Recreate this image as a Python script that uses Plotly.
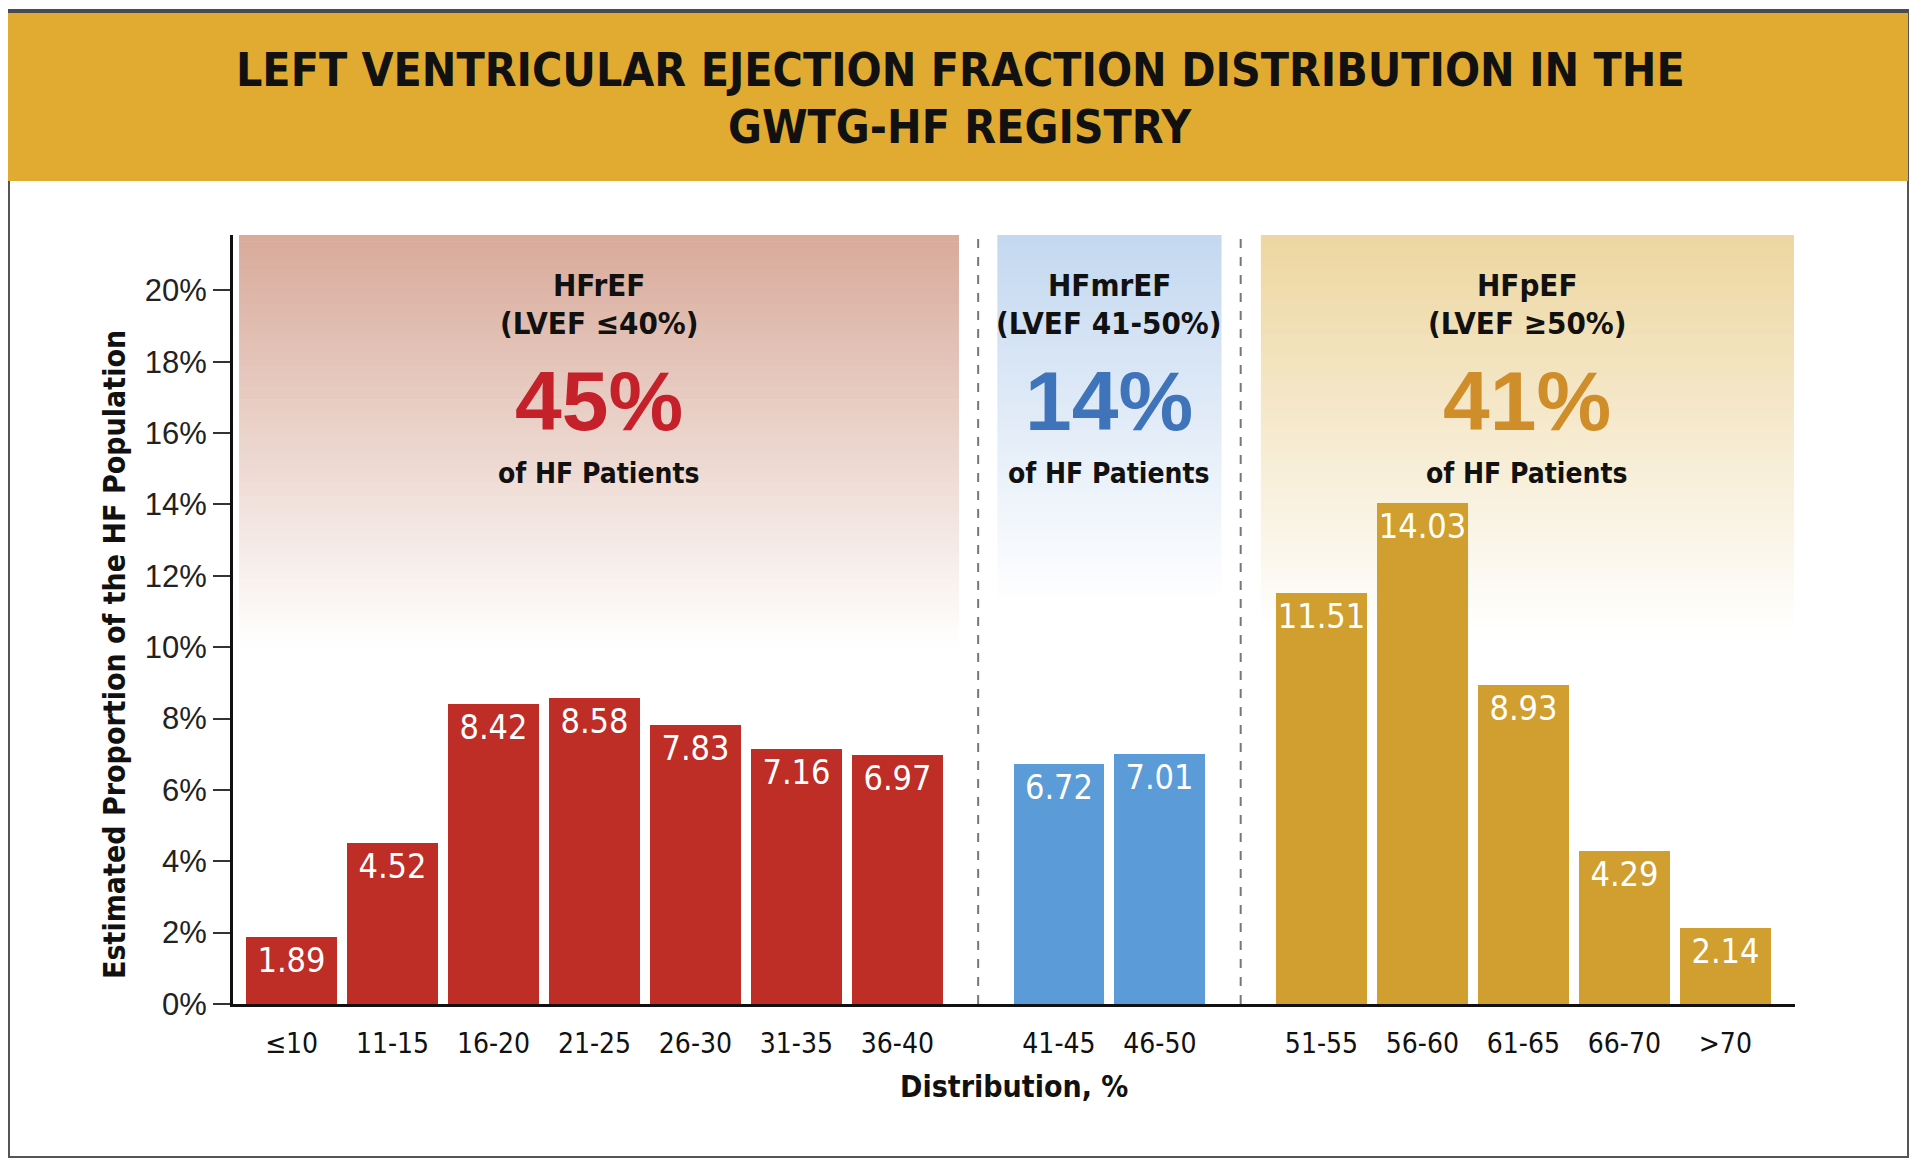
import plotly.graph_objects as go

# ---------------- data ----------------
hfref_cats = ["≤10", "11-15", "16-20", "21-25", "26-30", "31-35", "36-40"]
hfref_vals = [1.89, 4.52, 8.42, 8.58, 7.83, 7.16, 6.97]
hfmref_cats = ["41-45", "46-50"]
hfmref_vals = [6.72, 7.01]
hfpef_cats = ["51-55", "56-60", "61-65", "66-70", ">70"]
hfpef_vals = [11.51, 14.03, 8.93, 4.29, 2.14]

group_names = ["HFrEF", "HFmrEF", "HFpEF"]
group_ranges = ["(LVEF ≤40%)", "(LVEF 41-50%)", "(LVEF ≥50%)"]
group_shares = ["45%", "14%", "41%"]

y_ticks = [0, 2, 4, 6, 8, 10, 12, 14, 16, 18, 20]

# ---------------- style ----------------
W, H = 1920, 1167
OFF = 8  # page body margin of the browser
PW, PH = 1562, 769
ML, MT = 233 - OFF, 235 - OFF
MR, MB = W - ML - PW, H - MT - PH
GAP = 0.6          # extra spacing between groups
YMAX = 21.55

bar_colors = ["#BE2D26", "#5B9BD8", "#D09F30"]
share_colors = ["#C4212B", "#3F73BA", "#D08E2A"]
box_top_colors = [(216, 170, 154), (196, 216, 240), (237, 214, 160)]
box_fade_to = [10.0, 11.2, 10.4]

NARROW = "Liberation Sans Narrow, DejaVu Sans Condensed, Arial Narrow, sans-serif"
REG = "Liberation Sans, Arial, sans-serif"


def px_x(p):
    return (p - OFF - ML) / PW


def px_y(p):
    return (MT + PH - (p - OFF)) / PH


groups = [(hfref_cats, hfref_vals), (hfmref_cats, hfmref_vals), (hfpef_cats, hfpef_vals)]

# positions of bars (index-based, with a gap between groups)
positions = []
pos = 0.0
for gi, (cats, vals) in enumerate(groups):
    p = [pos + i for i in range(len(cats))]
    positions.append(p)
    pos = p[-1] + 1 + GAP

fig = go.Figure()

for gi, (cats, vals) in enumerate(groups):
    fig.add_trace(go.Bar(
        x=positions[gi], y=vals, width=0.9,
        marker=dict(color=bar_colors[gi], line=dict(width=0)),
        text=[f"{v:.2f}" for v in vals],
        textposition="inside", insidetextanchor="end", textangle=0,
        constraintext="none",
        textfont=dict(family=NARROW, size=34, color="white"),
        showlegend=False, hoverinfo="skip", name=group_names[gi],
    ))

shapes = []
annotations = []

# outer frame and title band
shapes.append(dict(type="rect", xref="paper", yref="paper",
                   x0=px_x(9), x1=px_x(1908), y0=px_y(1157), y1=px_y(10),
                   line=dict(color="#555555", width=2), fillcolor="rgba(0,0,0,0)", layer="below"))
shapes.append(dict(type="rect", xref="paper", yref="paper",
                   x0=px_x(6), x1=px_x(1908), y0=px_y(181), y1=px_y(12),
                   line=dict(width=0), fillcolor="#E1AA31", layer="below"))
shapes.append(dict(type="line", xref="paper", yref="paper",
                   x0=px_x(6), x1=px_x(1908), y0=px_y(11), y1=px_y(11),
                   line=dict(color="#4A4A50", width=4)))

annotations.append(dict(xref="paper", yref="paper", x=px_x(960), y=px_y(70),
                        text="<b>LEFT VENTRICULAR EJECTION FRACTION DISTRIBUTION IN THE</b>",
                        showarrow=False, xanchor="center", yanchor="middle",
                        font=dict(family=NARROW, size=46, color="#111111")))
annotations.append(dict(xref="paper", yref="paper", x=px_x(960), y=px_y(127),
                        text="<b>GWTG-HF REGISTRY</b>",
                        showarrow=False, xanchor="center", yanchor="middle",
                        font=dict(family=NARROW, size=46, color="#111111")))

# gradient boxes behind groups
N = 60
box_pad = [(0.52, 0.61), (0.61, 0.61), (0.60, 0.68)]
for gi in range(3):
    x0 = positions[gi][0] - box_pad[gi][0]
    x1 = positions[gi][-1] + box_pad[gi][1]
    yb = box_fade_to[gi]
    tr, tg, tb = box_top_colors[gi]
    for k in range(N):
        ya = yb + (YMAX - yb) * k / N
        yc = yb + (YMAX - yb) * (k + 1) / N
        t = (k + 0.5) / N
        r = round(255 + (tr - 255) * t)
        g = round(255 + (tg - 255) * t)
        b = round(255 + (tb - 255) * t)
        shapes.append(dict(type="rect", xref="x", yref="y", x0=x0, x1=x1, y0=ya, y1=yc + 0.02,
                           line=dict(width=0), fillcolor=f"rgb({r},{g},{b})", layer="below"))
    cx = (x0 + x1) / 2
    annotations.append(dict(x=cx, y=20.14, text=f"<b>{group_names[gi]}</b>", showarrow=False,
                            font=dict(family=NARROW, size=31, color="#111111")))
    annotations.append(dict(x=cx, y=19.08, text=f"<b>{group_ranges[gi]}</b>", showarrow=False,
                            font=dict(family=NARROW, size=31, color="#111111")))
    annotations.append(dict(x=cx, y=16.9, text=f"<b>{group_shares[gi]}</b>", showarrow=False,
                            font=dict(family=REG, size=84, color=share_colors[gi])))
    annotations.append(dict(x=cx, y=14.88, text="<b>of HF Patients</b>", showarrow=False,
                            font=dict(family=NARROW, size=28, color="#111111")))

# dashed separators between groups
for gi in range(2):
    xs = (positions[gi][-1] + positions[gi + 1][0]) / 2
    shapes.append(dict(type="line", xref="x", yref="y", x0=xs, x1=xs, y0=0, y1=YMAX,
                       line=dict(color="#777777", width=2, dash="dash"), layer="below"))

# axis titles
annotations.append(dict(xref="paper", yref="paper", x=px_x(114), y=px_y(655),
                        text="<b>Estimated Proportion of the HF Population</b>", textangle=-90,
                        showarrow=False, xanchor="center", yanchor="middle",
                        font=dict(family=NARROW, size=30, color="#111111")))
annotations.append(dict(xref="paper", yref="paper", x=px_x(1014), y=px_y(1086),
                        text="<b>Distribution, %</b>",
                        showarrow=False, xanchor="center", yanchor="middle",
                        font=dict(family=NARROW, size=30, color="#111111")))

all_pos = [p for ps in positions for p in ps]
all_cats = hfref_cats + hfmref_cats + hfpef_cats

fig.update_layout(
    width=W, height=H,
    margin=dict(l=ML, r=MR, t=MT, b=MB, pad=0),
    paper_bgcolor="white", plot_bgcolor="rgba(0,0,0,0)",
    shapes=shapes, annotations=annotations,
    bargap=0,
    xaxis=dict(range=[-0.58, 14.89], tickvals=all_pos, ticktext=all_cats,
               showgrid=False, zeroline=False, showline=True, linecolor="#111111", linewidth=3,
               ticks="", ticklabelstandoff=12,
               tickfont=dict(family=NARROW, size=28, color="#111111")),
    yaxis=dict(range=[0, YMAX], tickvals=y_ticks, ticktext=[f"{v}%" for v in y_ticks],
               showgrid=False, zeroline=False, showline=True, linecolor="#111111", linewidth=3,
               ticks="outside", ticklen=17, tickwidth=2, tickcolor="#333333",
               tickfont=dict(family=REG, size=31, color="#222222")),
)

fig.write_html("out.html")
